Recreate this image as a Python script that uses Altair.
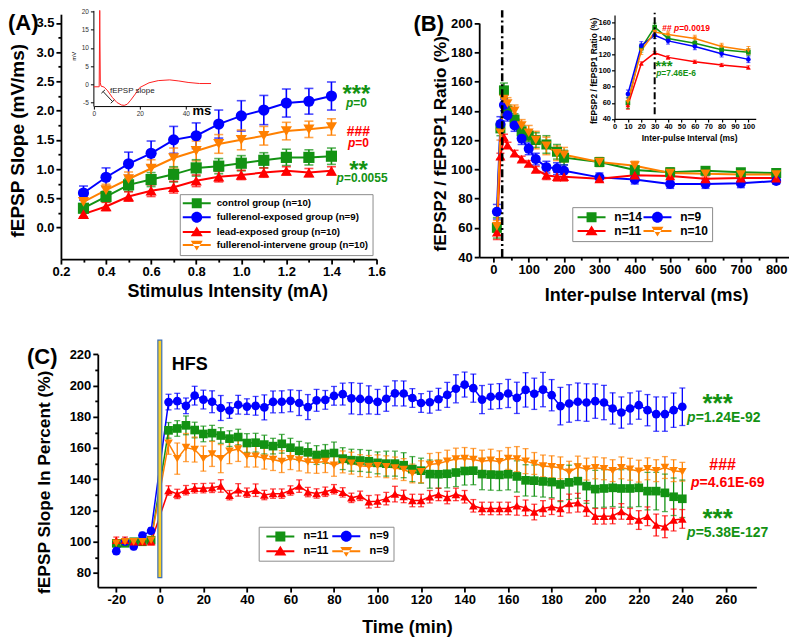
import altair as alt
import pandas as pd

W, H = 782, 621


def P(v):
    return v - 8


FONT = "Liberation Sans"
SERIES = ["control", "exposed", "lead", "intervene"]
COLORS = ["#139213", "#0000ff", "#ff0000", "#ff8000"]
SHAPES = ["square", "circle", "triangle-up", "triangle-down"]
_LN = "M-2.8,-0.2H2.8V0.2H-2.8Z"
LEG_SHAPES = [
    _LN + "M-1.0,-1.0H1.0V1.0H-1.0Z",
    _LN + "M-1.1,0C-1.1,-0.61,-0.61,-1.1,0,-1.1C0.61,-1.1,1.1,-0.61,1.1,0"
          "C1.1,0.61,0.61,1.1,0,1.1C-0.61,1.1,-1.1,0.61,-1.1,0Z",
    _LN + "M0,-1.1L1.2,0.85H-1.2Z",
    _LN + "M0,1.1L1.2,-0.85H-1.2Z",
]

# ---------------- Panel A data ----------------
A_x = [0.3, 0.4, 0.5, 0.6, 0.7, 0.8, 0.9, 1.0, 1.1, 1.2, 1.3, 1.4]
A_ctrl = [0.33, 0.53, 0.73, 0.82, 0.91, 1.02, 1.05, 1.10, 1.15, 1.20, 1.20, 1.22]
A_ctrl_err = [0.07, 0.09, 0.11, 0.12, 0.13, 0.14, 0.13, 0.13, 0.13, 0.14, 0.13, 0.14]
A_expo = [0.59, 0.86, 1.09, 1.27, 1.50, 1.57, 1.77, 1.91, 2.01, 2.13, 2.16, 2.25]
A_expo_err = [0.12, 0.16, 0.20, 0.21, 0.23, 0.22, 0.24, 0.26, 0.25, 0.24, 0.22, 0.24]
A_lead = [0.23, 0.36, 0.53, 0.63, 0.69, 0.80, 0.87, 0.90, 0.94, 0.97, 0.94, 0.97]
A_lead_err = [0.05, 0.07, 0.08, 0.10, 0.10, 0.10, 0.09, 0.08, 0.08, 0.07, 0.07, 0.07]
A_intv = [0.44, 0.64, 0.83, 1.01, 1.19, 1.31, 1.43, 1.50, 1.57, 1.65, 1.68, 1.72]
A_intv_err = [0.08, 0.10, 0.12, 0.15, 0.17, 0.17, 0.16, 0.17, 0.16, 0.15, 0.14, 0.14]
A_labels = ["control group (n=10)", "fullerenol-exposed group (n=9)",
            "lead-exposed group (n=10)", "fullerenol-intervene group (n=10)"]

# inset A: fEPSP trace
TR_t = [0, 2.3, 2.55, 2.8, 3.1, 4.5, 6, 8, 10, 12, 13.2, 14.5, 16, 18, 20, 24, 28, 33, 37, 41, 46, 51]
TR_v = [-0.7, -0.7, 20.3, 0.4, -0.5, -0.8, -1.8, -3.6, -5.0, -5.7, -5.8, -5.5, -4.4, -2.7, -0.9, 0.4, 1.0, 1.2, 0.9, 0.5, 0.2, 0.2]
BR_x = [4.0, 3.26, 7.35]
BR_y = [-2.0, -2.47, -5.22]
BR_x2 = [8.1, 4.83, 8.9]
BR_y2 = [-4.75, -1.54, -4.29]

# ---------------- Panel B data ----------------
B_x = [10, 20, 30, 40, 60, 80, 100, 120, 150, 180, 200, 300, 400, 500, 600, 700, 800]
B_ctrl = [60, 128, 154, 140, 134, 126, 123, 120, 117, 112, 108, 105, 99.5, 98, 99, 98, 97.5]
B_ctrl_err = [7, 5, 5, 4, 4, 4, 4, 5, 6, 5, 5, 3, 3, 3, 2, 2, 2]
B_expo = [71, 131, 144, 137, 130, 121, 114, 107, 101.5, 100.5, 99, 94.5, 93, 90, 90, 90.5, 92]
B_expo_err = [5, 5, 4, 4, 4, 4, 4, 4, 4, 4, 4, 3, 3, 3, 3, 3, 2]
B_lead = [57, 109, 122, 116.5, 111, 107, 104, 100, 96, 95, 95, 93.5, 96, 95.5, 93.5, 94, 94]
B_lead_err = [5, 2, 2, 2, 2, 2, 2, 2, 3, 3, 3, 2, 2, 2, 2, 2, 2]
B_intv = [61, 125, 148, 145, 140, 130, 125, 120, 116, 111, 110, 105, 102.5, 97.5, 97, 96.5, 96.5]
B_intv_err = [4, 5, 5, 4, 4, 4, 5, 6, 6, 5, 5, 3, 3, 3, 3, 3, 3]
B_labels = ["n=14", "n=9", "n=11", "n=10"]

# ---------------- Panel C data ----------------
C_t = [-20, -16, -12, -8, -4,
       4, 8, 12, 16, 20, 24, 28, 32, 36, 40, 44, 48, 52, 56, 60,
       64, 68, 72, 76, 80, 84, 88, 92, 96, 100, 104, 108, 112, 116, 120,
       124, 128, 132, 136, 140, 144, 148, 152, 156, 160, 164, 168, 172, 176, 180,
       184, 188, 192, 196, 200, 204, 208, 212, 216, 220, 224, 228, 232, 236, 240]
C_ctrl = [99, 99, 100, 100, 101,
          171.3, 172.5, 174.5, 171.5, 169, 169.5, 168, 166, 167, 163.2,
          163.4, 162.2, 161.2, 162.7, 160.2, 158.2, 157.2, 155.5, 156.2, 156.8,
          153.2, 152.2, 152, 151.5, 150.5, 150, 150, 149, 146.5, 145.5,
          143.3, 143.2, 143.5, 144.3, 145.3, 145.5, 143.3, 143, 142.8, 143.2,
          141.8, 139.3, 139.1, 138.6, 138.2, 136.7, 138, 138.8, 135.6, 133.7,
          134.1, 134.5, 134.1, 134.1, 134.5, 132.4, 132.4, 131.3, 128.8, 127.5]
C_ctrl_err = [1, 1, 1, 1, 1, 5, 5, 6, 5, 5, 5, 5, 5, 5, 6, 6, 6, 5, 6, 6, 6, 6, 6, 6, 7,
              7, 7, 7, 7, 7, 8, 8, 8, 8, 8, 9, 9, 9, 9, 9, 9, 10, 10, 10, 10, 10, 10, 10, 10, 10,
              11, 11, 11, 11, 12, 12, 12, 12, 12, 12, 12, 12, 12, 12, 12]
C_expo = [94, 100, 97, 104, 107,
          189.4, 190, 187, 193.5, 191, 189.6, 185.6, 184, 187.7, 186.5,
          187, 186, 189.5, 189.6, 190.2, 188.8, 186.2, 190.5, 190.8, 193.4,
          194.5, 191.8, 191.4, 190.8, 189.5, 191.5, 195, 194.9, 192, 188.8,
          189.3, 191.2, 194, 197.9, 200.6, 198.3, 191, 192.8, 193.2, 194.9,
          192.1, 197.2, 194.7, 197.4, 193.8, 186.8, 188.5, 189.6, 189.1, 190,
          189.1, 185.3, 182.7, 185.3, 187.4, 184.2, 181.7, 181.7, 184.2, 186.4]
C_expo_err = [2, 2, 2, 2, 2, 5, 5, 5, 6, 6, 7, 8, 5, 6, 5, 6, 8, 7, 7, 7, 8, 8, 7, 6, 6,
              7, 10, 10, 9, 8, 8, 8, 8, 6, 6, 7, 7, 8, 9, 8, 9, 9, 8, 8, 9, 10, 11, 10, 11, 10,
              12, 12, 12, 12, 11, 11, 10, 10, 10, 9, 10, 11, 11, 11, 12]
C_lead = [101, 101, 100, 100, 100,
          132.8, 130.6, 133, 134.2, 134.3, 134.5, 135.7, 129.8, 133.2, 131.4,
          133, 129.9, 130.8, 130.8, 132.8, 135.6, 131.8, 130.9, 132, 133.6,
          131.6, 128.1, 129.4, 125.6, 126, 127.6, 130.5, 129, 126.4, 126.4,
          128.8, 130.3, 128.3, 130.3, 128.8, 123, 121.3, 121.3, 121.3, 121.3,
          123, 121.7, 119, 121.3, 122.4, 121.3, 124.5, 125, 121.3, 116.3,
          116.3, 116.5, 119.4, 116.3, 113.9, 116.3, 110.7, 109.6, 113.9, 114.6]
C_lead_err = [2, 2, 2, 2, 2, 3, 3, 3, 3, 3, 3, 4, 3, 4, 3, 4, 3, 3, 3, 3, 4, 3, 3, 3, 3,
              3, 3, 3, 4, 4, 4, 5, 4, 4, 4, 4, 4, 4, 4, 4, 4, 4, 4, 4, 4, 6, 5, 5, 5, 5,
              5, 6, 6, 5, 5, 5, 5, 5, 5, 6, 6, 7, 7, 7, 6]
C_intv = [99, 100, 100, 100, 101,
          163, 153.2, 160.3, 159, 153.2, 156.2, 153.2, 158, 159.4, 154.8,
          154.8, 153.5, 152.6, 151.3, 153.2, 152.3, 151.1, 150.8, 151.3, 148.9,
          151.1, 150.3, 148.7, 148.2, 148.6, 148, 147.2, 146.2, 143.7, 144.8,
          149.5, 150.1, 151.6, 152.9, 153.3, 152.7, 151.6, 152.2, 151.2, 153.3,
          152.9, 151.6, 150.1, 148.5, 148, 147.3, 144.5, 147.8, 146.5, 147.3,
          146.7, 145.5, 147.3, 146.4, 145.2, 146.7, 145.5, 147.5, 145.5, 144.8]
C_intv_err = [2, 2, 2, 2, 2, 7, 10, 9, 8, 8, 8, 9, 8, 8, 7, 7, 7, 7, 7, 7, 7, 7, 7, 7, 7,
              7, 7, 7, 7, 7, 7, 7, 7, 6, 7, 7, 7, 7, 7, 7, 7, 7, 7, 7, 7, 8, 8, 7, 7, 7,
              7, 7, 7, 7, 7, 7, 7, 7, 7, 7, 7, 7, 7, 7, 6]
C_labels = ["n=11", "n=9", "n=11", "n=9"]

# ---------------- helpers ----------------
AWB = {"p": .611, "=": .584, ".": .278, "E": .667, "-": .333, "#": .556, "*": .389, " ": .278,
       "H": .722, "F": .611, "S": .667}


def tw(s, size):
    return sum(AWB.get(c, .556) for c in s) * size


def X(f, s, ax=None):
    return alt.X(f, scale=s, axis=ax) if ax is not None else alt.X(f, scale=s)


def Y(f, s, ax=None):
    return alt.Y(f, scale=s, axis=ax) if ax is not None else alt.Y(f, scale=s)


def long_df(xs, vals, errs):
    rows = []
    for s, v, e in zip(SERIES, vals, errs):
        for xi, vi, ei in zip(xs, v, e):
            rows.append({"s": s, "x": xi, "y": vi, "lo": vi - ei, "hi": vi + ei})
    return pd.DataFrame(rows)


def caps_of(df):
    a = df[["s", "x", "lo"]].rename(columns={"lo": "yc"})
    b = df[["s", "x", "hi"]].rename(columns={"hi": "yc"})
    return pd.concat([a, b], ignore_index=True)


def series_layers(df, xs, ys, xaxis, yaxis, size, cap, lw, rw):
    color = alt.Color("s:N", scale=alt.Scale(domain=SERIES, range=COLORS), legend=None)
    shape = alt.Shape("s:N", scale=alt.Scale(domain=SERIES, range=SHAPES), legend=None)
    rules = alt.Chart(df).mark_rule(strokeWidth=rw).encode(
        x=X("x:Q", xs, xaxis), y=Y("lo:Q", ys, yaxis), y2="hi:Q", color=color)
    caps = alt.Chart(caps_of(df)).mark_tick(orient="horizontal", size=cap, thickness=rw).encode(
        x=X("x:Q", xs), y=Y("yc:Q", ys), color=color)
    line = alt.Chart(df).mark_line(strokeWidth=lw).encode(
        x=X("x:Q", xs), y=Y("y:Q", ys), color=color)
    pts = alt.Chart(df).mark_point(filled=True, size=size, opacity=1).encode(
        x=X("x:Q", xs), y=Y("y:Q", ys), color=color, shape=shape)
    return [rules, caps, line, pts]


def rich_text(parts, x, y, xs, ys, size, color, anchor="left"):
    total = sum(tw(t, size) for t, _ in parts)
    off = 0 if anchor == "left" else -total / 2
    df = pd.DataFrame({"x": [x], "y": [y]})
    out = []
    for t, it in parts:
        out.append(alt.Chart(df).mark_text(
            text=t, font=FONT, fontSize=size, fontWeight="bold",
            fontStyle="italic" if it else "normal", align="left", baseline="alphabetic",
            dx=off, color=color).encode(x=X("x:Q", xs), y=Y("y:Q", ys)))
        off += tw(t, size)
    return out


def ptext(s, x, y, xs, ys, size, color, anchor="left"):
    i = s.index("p")
    parts = []
    if i > 0:
        parts.append((s[:i], False))
    parts.append(("p", True))
    parts.append((s[i + 1:], False))
    return rich_text(parts, x, y, xs, ys, size, color, anchor)


def main_axis(orient, offset, values, major, fmt, title, tx, ty, lfs, tfs, angle=0):
    return alt.Axis(
        orient=orient, offset=offset, values=values, format=fmt,
        labelExpr=f"({major}) ? replace(datum.label, '\u2212', '-') : ''",
        tickSize={"condition": {"test": f"!({major})", "value": 3}, "value": 5},
        title=title, titleX=tx, titleY=ty, titleAlign="center", titleBaseline="alphabetic",
        titleAngle=angle, labelFontSize=lfs, titleFontSize=tfs,
        labelPadding=2 if orient == "left" else 1, grid=False)


def legend_layer(labels, order, lx, ly, cols, fsize, sym_off, lab_off, col_pad, pad, row_pad):
    lab = dict(zip(SERIES, labels))
    col = dict(zip(SERIES, COLORS))
    shp = dict(zip(SERIES, LEG_SHAPES))
    expr = " : ".join(f"datum.label == '{s}' ? '{lab[s]}'" for s in order[:-1]) + f" : '{lab[order[-1]]}'"
    leg = alt.Legend(orient="none", legendX=lx, legendY=ly, title=None, columns=cols,
                     symbolSize=100, symbolStrokeWidth=0, symbolOpacity=1,
                     symbolOffset=sym_off, labelOffset=lab_off,
                     labelFont=FONT, labelFontSize=fsize, labelFontWeight="bold", labelColor="black",
                     labelExpr=expr, labelLimit=0, strokeColor="#8c8c8c", padding=pad,
                     rowPadding=row_pad, columnPadding=col_pad, fillColor="white")
    df = pd.DataFrame({"s": order})
    return alt.Chart(df).mark_point(opacity=0).encode(
        x=alt.value(lx + 30), y=alt.value(ly + 10),
        fill=alt.Fill("s:N", scale=alt.Scale(domain=order, range=[col[s] for s in order]), legend=leg),
        shape=alt.Shape("s:N", scale=alt.Scale(domain=order, range=[shp[s] for s in order]), legend=leg))


def panel_label(t, x, y, size):
    return alt.Chart(pd.DataFrame({"t": [t]})).mark_text(
        font=FONT, fontSize=size, fontWeight="bold", align="left", baseline="alphabetic",
        color="black").encode(text="t:N", x=alt.value(x), y=alt.value(y))


GREEN, RED = COLORS[0], COLORS[2]

# ---------------- Panel A ----------------
xsA = alt.Scale(domain=[0.2, 1.6], range=[P(61), P(377)], nice=False, zero=False)
ysA = alt.Scale(domain=[-0.54, 3.65], range=[P(257), P(11.8)], nice=False, zero=False)
axA_x = main_axis("bottom", P(257) - H, [round(0.2 + 0.1 * i, 1) for i in range(15)],
                  "round(datum.value*10) % 2 == 0", ".1f", "Stimulus Intensity (mA)",
                  P(227.5), 37, 13, 18)
axA_y = main_axis("left", -P(61), [0.25 * i for i in range(15)],
                  "round(datum.value*4) % 2 == 0", ".1f", "fEPSP Slope (mV/ms)",
                  24 - 61, P(138), 13, 19, angle=270)
dfA = long_df(A_x, [A_ctrl, A_expo, A_lead, A_intv], [A_ctrl_err, A_expo_err, A_lead_err, A_intv_err])
A_layers = series_layers(dfA, xsA, ysA, axA_x, axA_y, 125, 9, 2, 1.6)
A_layers += rich_text([("***", False)], 1.511, 2.155, xsA, ysA, 24, GREEN, "center")
A_layers += ptext("p=0", 1.511, 2.07, xsA, ysA, 12, GREEN, "center")
A_layers += rich_text([("###", False)], 1.52, 1.56, xsA, ysA, 14, RED, "center")
A_layers += ptext("p=0", 1.52, 1.37, xsA, ysA, 12, RED, "center")
A_layers += rich_text([("**", False)], 1.52, 0.85, xsA, ysA, 24, GREEN, "center")
A_layers += ptext("p=0.0055", 1.536, 0.78, xsA, ysA, 12, GREEN, "center")
panelA = alt.layer(*A_layers)

# inset A
xsIA = alt.Scale(domain=[0, 51], range=[P(94), P(211.3)], nice=False, zero=False)
ysIA = alt.Scale(domain=[-6, 20.3], range=[P(103.8), P(8)], nice=False, zero=False)
axIA_x = alt.Axis(orient="bottom", offset=P(103.8) - H, values=[0, 20, 40], title=None,
                  labelFontSize=6.5, labelFontWeight="normal", labelColor="#333", tickSize=3,
                  domainWidth=1, tickWidth=1, labelPadding=1, grid=False)
axIA_y = alt.Axis(orient="left", offset=-P(93.5), values=[-5, 0, 5, 10, 15, 20], title="mV",
                  titleFontSize=6, titleFontWeight="normal", titleX=-17.5, titleY=P(53.5),
                  titleAngle=270, titleBaseline="alphabetic", titleAlign="center",
                  labelFontSize=6.5, labelFontWeight="normal", labelColor="#333", tickSize=3,
                  domainWidth=1, tickWidth=1, labelPadding=2, labelFlush=True, grid=False,
                  labelExpr="replace(datum.label, '\u2212', '-')")
trace = alt.Chart(pd.DataFrame({"t": TR_t, "v": TR_v})).mark_line(
    color="#ff2020", strokeWidth=1).encode(
    x=X("t:Q", xsIA, axIA_x), y=Y("v:Q", ysIA, axIA_y), order="t:Q")
bracket = alt.Chart(pd.DataFrame({"x": BR_x, "y": BR_y, "x2": BR_x2, "y2": BR_y2})).mark_rule(
    color="#222", strokeWidth=1).encode(
    x=X("x:Q", xsIA), y=Y("y:Q", ysIA), x2="x2:Q", y2="y2:Q")
slope_txt = alt.Chart(pd.DataFrame({"x": [7.0], "y": [-1.8]})).mark_text(
    text="fEPSP slope", font=FONT, fontSize=8, align="left", baseline="middle", color="#222").encode(
    x=X("x:Q", xsIA), y=Y("y:Q", ysIA))
ms_txt = alt.Chart(pd.DataFrame({"x": [47.0], "y": [-8.4]})).mark_text(
    text="ms", font=FONT, fontSize=13, fontWeight="bold", align="center", baseline="alphabetic",
    color="black").encode(x=X("x:Q", xsIA), y=Y("y:Q", ysIA))
insetA = alt.layer(trace, bracket, slope_txt, ms_txt)

# ---------------- Panel B ----------------
xsB = alt.Scale(domain=[-40, 835], range=[P(479.8), P(789.6)], nice=False, zero=False)
ysB = alt.Scale(domain=[40, 200], range=[P(255), P(20.7)], nice=False, zero=False)
axB_x = main_axis("bottom", P(255) - H, list(range(0, 801, 50)), "datum.value % 100 == 0", "d",
                  "Inter-pulse Interval (ms)", P(647), 43, 13, 18)
axB_y = main_axis("left", -P(479.8), list(range(40, 201, 10)), "datum.value % 20 == 0", "d",
                  "fEPSP2 / fEPSP1 Ratio (%)", 446 - 479.8, P(141), 13, 17.2, angle=270)
dfB = long_df(B_x, [B_ctrl, B_expo, B_lead, B_intv], [B_ctrl_err, B_expo_err, B_lead_err, B_intv_err])
B_layers = series_layers(dfB, xsB, ysB, axB_x, axB_y, 100, 8, 2, 1.5)
dashB = alt.Chart(pd.DataFrame({"x": [25], "y": [40], "y2": [208.7]})).mark_rule(
    color="black", strokeWidth=2.5, strokeDash=[8, 3, 2, 3]).encode(
    x=X("x:Q", xsB), y=Y("y:Q", ysB), y2="y2:Q")
panelB = alt.layer(*B_layers, dashB)

# inset B
xsIB = alt.Scale(domain=[0, 105.5], range=[P(615.3), P(756.7)], nice=False, zero=False)
ysIB = alt.Scale(domain=[40, 169], range=[P(116.7), P(12.7)], nice=False, zero=False)
axIB_x = alt.Axis(orient="bottom", offset=P(116.7) - H, values=list(range(0, 101, 10)),
                  title="Inter-pulse Interval (ms)", titleFontSize=8.5, titleX=P(690), titleY=21.3,
                  titleAlign="center", titleBaseline="alphabetic",
                  labelFontSize=7.5, tickSize=3, domainWidth=1.2, tickWidth=1.2, labelPadding=1, grid=False)
axIB_y = alt.Axis(orient="left", offset=-P(615.3), values=list(range(40, 161, 20)),
                  title="fEPSP2 / fEPSP1 Ratio (%)", titleFontSize=8.5, titleX=597 - 615.3, titleY=P(68),
                  titleAngle=270, titleAlign="center", titleBaseline="alphabetic",
                  labelFontSize=7.5, tickSize=3, domainWidth=1.2, tickWidth=1.2, labelPadding=1, grid=False)
dfIB = dfB[dfB["x"] <= 100].reset_index(drop=True)
IB_layers = series_layers(dfIB, xsIB, ysIB, axIB_x, axIB_y, 22, 4, 1.5, 1)
dashIB = alt.Chart(pd.DataFrame({"x": [30], "y": [46], "y2": [172]})).mark_rule(
    color="black", strokeWidth=2, strokeDash=[7, 3, 2, 3]).encode(
    x=X("x:Q", xsIB), y=Y("y:Q", ysIB), y2="y2:Q")
IB_layers.append(dashIB)
IB_layers += rich_text([("## ", False), ("p", True), ("=0.0019", False)], 35.6, 149.4, xsIB, ysIB, 8.5, RED)
IB_layers += rich_text([("***", False)], 30.4, 99.2, xsIB, ysIB, 15, GREEN)
IB_layers += ptext("p=7.46E-6", 31.1, 93, xsIB, ysIB, 8.5, GREEN)
insetB = alt.layer(*IB_layers)

# ---------------- Panel C ----------------
xsC = alt.Scale(domain=[-28.5, 274], range=[P(97.9), P(757.3)], nice=False, zero=False)
ysC = alt.Scale(domain=[71, 220], range=[P(585.4), P(352.3)], nice=False, zero=False)
axC_x = main_axis("bottom", P(585.4) - H, list(range(-20, 271, 10)), "datum.value % 20 == 0", "d",
                  "Time (min)", P(407.5), 45.6, 13, 18)
axC_y = main_axis("left", -P(97.9), list(range(80, 221, 10)), "datum.value % 20 == 0", "d",
                  "fEPSP Slope In Percent (%)", 50 - 97.9, P(480), 13, 17.3, angle=270)
dfC = long_df(C_t, [C_ctrl, C_expo, C_lead, C_intv], [C_ctrl_err, C_expo_err, C_lead_err, C_intv_err])
C_layers = series_layers(dfC, xsC, ysC, axC_x, axC_y, 75, 6, 1.5, 1.3)
hfs = alt.Chart(pd.DataFrame({"x": [-0.9], "x2": [0.9], "y": [77], "y2": [229]})).mark_rect(
    fill="#f6cf2a", stroke="#3d6fb5", strokeWidth=1.2).encode(
    x=X("x:Q", xsC), x2="x2:Q", y=Y("y:Q", ysC), y2="y2:Q")
C_layers.append(hfs)
C_layers += rich_text([("HFS", False)], 5.5, 210, xsC, ysC, 18, "black")
C_layers += rich_text([("***", False)], 256.2, 182.8, xsC, ysC, 26, GREEN, "center")
C_layers += ptext("p=1.24E-92", 242.2, 176.7, xsC, ysC, 14, GREEN)
C_layers += rich_text([("###", False)], 258.5, 146, xsC, ysC, 16, RED, "center")
C_layers += ptext("p=4.61E-69", 244, 135.2, xsC, ysC, 14, RED)
C_layers += rich_text([("***", False)], 256.2, 109.2, xsC, ysC, 26, GREEN, "center")
C_layers += ptext("p=5.38E-127", 242.2, 103.2, xsC, ysC, 14, GREEN)
panelC = alt.layer(*C_layers)

# ---------------- legends & labels ----------------
ROWMAJOR = ["control", "lead", "exposed", "intervene"]
legA = legend_layer(A_labels, SERIES, P(180), P(192), 1, 9.7, 8, 15, 8, 4, 3)
legB = legend_layer(B_labels, ROWMAJOR, P(573), P(205), 2, 12, 9.3, 16.8, 0, 4, 2)
legC = legend_layer(C_labels, ROWMAJOR, P(259), P(525), 2, 11, 12.2, 17.8, 0, 4, 3)

labA = panel_label("(A)", P(8), P(28), 22)
labB = panel_label("(B)", P(414), P(29), 22)
labC = panel_label("(C)", P(27), P(362), 22)

chart = alt.layer(panelA, insetA, panelB, insetB, panelC, legA, legB, legC, labA, labB, labC).resolve_scale(
    x="independent", y="independent", color="independent", shape="independent", fill="independent"
).properties(width=W, height=H, padding=0).configure_view(stroke=None).configure_axis(
    grid=False, domainColor="black", tickColor="black", labelColor="black", titleColor="black",
    labelFont=FONT, titleFont=FONT, labelFontWeight="bold", titleFontWeight="bold",
    labelOverlap=False, labelFlush=False, labelBound=False, domainWidth=1.8, tickWidth=1.8)

chart.save("out.html", embed_options={"renderer": "svg", "actions": False})
